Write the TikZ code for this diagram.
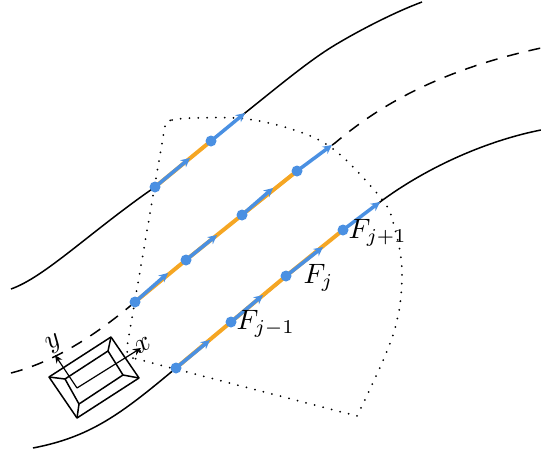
\documentclass[tikz,border=0pt]{standalone}
\usepackage{amsmath}
\usetikzlibrary{arrows.meta}
\definecolor{myblue}{HTML}{4A90E2}
\definecolor{myorange}{HTML}{F5A623}
\tikzset{
  road/.style={black,line width=1.5pt},
  roaddash/.style={black,line width=1.5pt,dash pattern=on 12pt off 10pt},
  sector/.style={black,line width=2pt,line cap=round,dash pattern=on 0pt off 8.8pt},
  car/.style={black,line width=1.5pt,line join=round},
  axisarrow/.style={black,line width=1.2pt,-{Stealth[length=8pt,width=7pt]}},
  segment/.style={myorange,line width=4pt},
  force/.style={myblue,line width=3.5pt,-{Stealth[length=9pt,width=9pt]}},
  point/.style={circle,fill=myblue,inner sep=0pt,minimum size=11pt},
  lab/.style={inner sep=0pt,scale=2.8,transform shape},
  axlab/.style={inner sep=0pt,scale=2.8,rotate=30,transform shape},
}
\begin{document}
\begin{tikzpicture}[x=1pt,y=-1pt]
\useasboundingbox (0,0) rectangle (541,455);
% road
\draw[road] (11,289) .. controls (45,277) and (90,232) .. (155,187) -- (211,141) -- (245,113) .. controls (280,85) and (310,60) .. (335,45) .. controls (360,30) and (395,12) .. (422,2);
\draw[roaddash] (11,373) .. controls (50,363) and (90,340) .. (135,302) -- (297,171) -- (335,143) .. controls (380,105) and (440,70) .. (541,48);
\draw[road] (33,448) .. controls (90,437) and (120,415) .. (176,368) -- (343,230) -- (380,202) .. controls (430,165) and (490,140) .. (541,130);
% sector
\draw[sector] (133,358) .. controls (128,356) and (126,352) .. (127,347) -- (165,126) .. controls (165,122) and (167,121) .. (172,120)
  plot[smooth,tension=0.6] coordinates {(172,120) (193,118) (247,119) (300,132) (337,152) (380,197) (393,222) (402,273) (393,335) (357,416)} -- (133,358);
% car
\draw[car] (49,377) -- (111,337) -- (139,378) -- (77,418) -- cycle;
\draw[car] (65,379) -- (108,351) -- (123,375) -- (79,404) -- cycle;
\draw[car] (49,377) -- (65,379) (111,337) -- (108,351) (139,378) -- (123,375) (77,418) -- (79,404);
\coordinate (o) at (77,388);
\coordinate (xt) at (141,348);
\coordinate (yt) at (55,355);
\draw[axisarrow] (o) -- (xt);
\draw[axisarrow] (o) -- (yt);
\node[axlab] (xl) at (143,345) {$x$};
\node[axlab] (yl) at (54,344) {$y$};
% segments
\coordinate (t0e) at (190,158);
\coordinate (t1e) at (245,113);
\coordinate (m0e) at (168,273);
\coordinate (m1e) at (217,235);
\coordinate (m2e) at (273,188);
\coordinate (m3e) at (332,145);
\coordinate (b0e) at (210,340);
\coordinate (b1e) at (263,295);
\coordinate (b2e) at (323,247);
\coordinate (b3e) at (380,202);
\coordinate (t0) at (155,187);
\coordinate (t1) at (211,141);
\coordinate (m0) at (135,302);
\coordinate (m1) at (186,260);
\coordinate (m2) at (242,215);
\coordinate (m3) at (297,171);
\coordinate (b0) at (176,368);
\coordinate (b1) at (231,322);
\coordinate (b2) at (286,276);
\coordinate (b3) at (343,230);
\draw[segment] (t0) -- (t1);
\draw[segment] (m0) -- (m1);
\draw[segment] (m1) -- (m2);
\draw[segment] (m2) -- (m3);
\draw[segment] (b0) -- (b1);
\draw[segment] (b1) -- (b2);
\draw[segment] (b2) -- (b3);
\draw[force] (t0) -- (t0e);
\draw[force] (t1) -- (t1e);
\draw[force] (m0) -- (m0e);
\draw[force] (m1) -- (m1e);
\draw[force] (m2) -- (m2e);
\draw[force] (m3) -- (m3e);
\draw[force] (b0) -- (b0e);
\draw[force] (b1) -- (b1e);
\draw[force] (b2) -- (b2e);
\draw[force] (b3) -- (b3e);
\node[point] (p1) at (t0) {};
\node[point] (p2) at (t1) {};
\node[point] (p3) at (m0) {};
\node[point] (p4) at (m1) {};
\node[point] (p5) at (m2) {};
\node[point] (p6) at (m3) {};
\node[point] (p7) at (b0) {};
\node[point] (p8) at (b1) {};
\node[point] (p9) at (b2) {};
\node[point] (p10) at (b3) {};
\node[lab,anchor=base west] (f1) at (236,329) {$F_{j-1}$};
\node[lab,anchor=base west] (f2) at (303,283) {$F_{j}$};
\node[lab,anchor=base west] (f3) at (348,238) {$F_{j+1}$};
\end{tikzpicture}
\end{document}
